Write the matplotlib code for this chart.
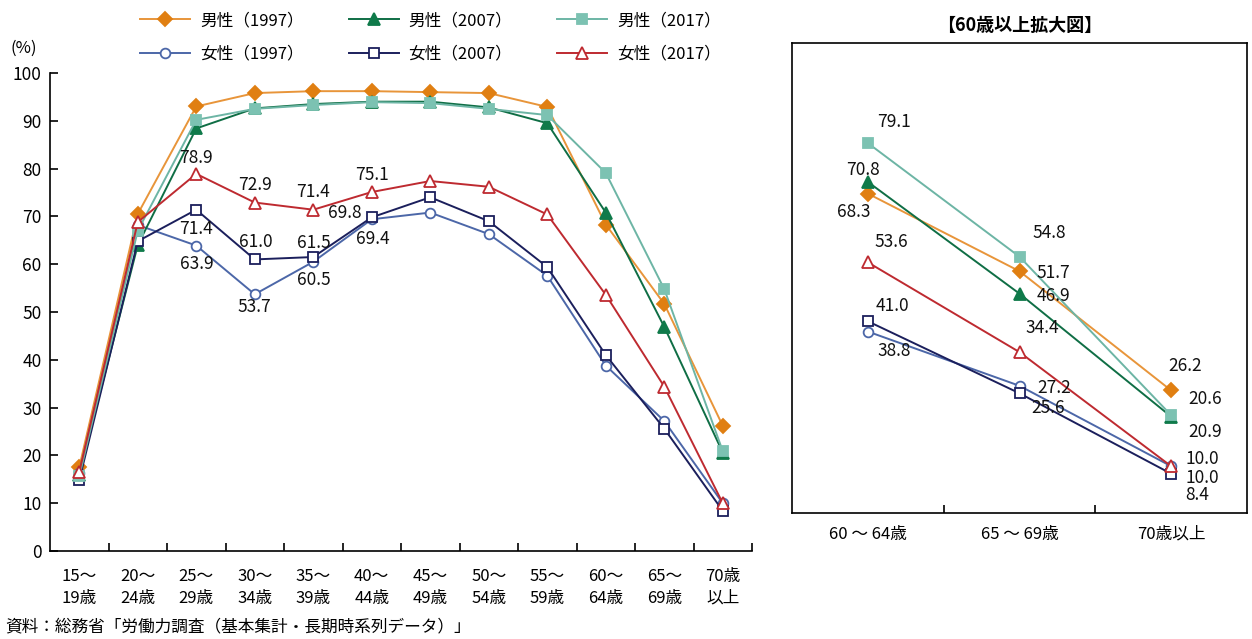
import matplotlib
matplotlib.use("Agg")
import matplotlib.pyplot as plt

plt.rcParams['font.family'] = ['Liberation Sans Narrow', 'Noto Sans CJK JP', 'DejaVu Sans']

# Age groups
age_labels = ["15～\n19歳", "20～\n24歳", "25～\n29歳", "30～\n34歳", "35～\n39歳", "40～\n44歳",
              "45～\n49歳", "50～\n54歳", "55～\n59歳", "60～\n64歳", "65～\n69歳", "70歳\n以上"]
zoom_labels = ["60 ～ 64歳", "65 ～ 69歳", "70歳以上"]

# Employment rate by age group (%)
male_1997 = [17.5, 70.5, 93.0, 95.8, 96.2, 96.2, 96.0, 95.8, 92.9, 68.3, 51.7, 26.2]
male_2007 = [16.0, 64.0, 88.4, 92.6, 93.5, 94.0, 94.0, 92.8, 89.5, 70.8, 46.9, 20.6]
male_2017 = [15.6, 67.0, 90.2, 92.5, 93.3, 93.9, 93.7, 92.5, 91.2, 79.1, 54.8, 20.9]
female_1997 = [16.3, 68.2, 63.9, 53.7, 60.5, 69.4, 70.8, 66.3, 57.6, 38.8, 27.2, 10.0]
female_2007 = [14.8, 64.8, 71.4, 61.0, 61.5, 69.8, 74.0, 69.0, 59.4, 41.0, 25.6, 8.4]
female_2017 = [16.5, 68.8, 78.9, 72.9, 71.4, 75.1, 77.4, 76.2, 70.4, 53.6, 34.4, 10.0]

series = [
    ("男性（1997）", male_1997, dict(color="#E8953A", marker="D", mfc="#E07F12", mec="#E07F12", ms=7)),
    ("女性（1997）", female_1997, dict(color="#4C67A8", marker="o", mfc="white", mec="#4C67A8", ms=7)),
    ("男性（2007）", male_2007, dict(color="#0F6E45", marker="^", mfc="#0F7A4A", mec="#0F7A4A", ms=8)),
    ("女性（2007）", female_2007, dict(color="#1B1F5C", marker="s", mfc="white", mec="#1B1F5C", ms=7)),
    ("男性（2017）", male_2017, dict(color="#6DB5A5", marker="s", mfc="#7CC2B2", mec="#7CC2B2", ms=7)),
    ("女性（2017）", female_2017, dict(color="#BE2A30", marker="^", mfc="white", mec="#BE2A30", ms=8)),
]

W, H = 1252, 639
fig = plt.figure(figsize=(W / 100, H / 100), dpi=100)
fig.patch.set_facecolor("white")

def fx(px):
    return px / W

def fy(py):
    return 1 - py / H

# ---- main chart ----
ax = fig.add_axes([fx(50), fy(551), fx(752) - fx(50), fy(73) - fy(551)])
x = list(range(len(age_labels)))
handles = []
for name, vals, st in series:
    h, = ax.plot(x, vals, lw=1.4, mew=1.3, label=name, zorder=3, **st)
    handles.append(h)

ax.set_xlim(-0.5, len(age_labels) - 0.5)
ax.set_ylim(0, 100)
ax.set_yticks(range(0, 101, 10))
ax.set_xticks(x)
ax.set_xticklabels(age_labels, fontsize=12, linespacing=1.4)
ax.set_xticks([i + 0.5 for i in range(len(age_labels))], minor=True)
ax.tick_params(axis="x", which="major", length=0, pad=12)
ax.tick_params(axis="x", which="minor", direction="in", length=6, width=1.2)
ax.tick_params(axis="y", direction="in", length=6, width=1.2, labelsize=12.5, pad=6)
for s in ["top", "right"]:
    ax.spines[s].set_visible(False)
for s in ["left", "bottom"]:
    ax.spines[s].set_linewidth(1.2)

# value labels on the female curves (pixel offsets from the marker)
main_labels = [
    (female_2017, 2, 0, 16), (female_2017, 3, 0, 18), (female_2017, 4, 0, 18), (female_2017, 5, 0, 17),
    (female_2007, 2, 0, -19), (female_2007, 3, 1, 17), (female_2007, 4, 1, 14), (female_2007, 5, -27, 4),
    (female_1997, 2, 1, -18), (female_1997, 3, 0, -13), (female_1997, 4, 1, -18), (female_1997, 5, 1, -20),
]
for vals, i, dx, dy in main_labels:
    ax.annotate(f"{vals[i]:.1f}", (i, vals[i]), xytext=(dx, dy), textcoords="offset pixels",
                ha="center", va="center", fontsize=12.5, color="#111111", zorder=5)

fig.text(fx(10), fy(48), "(%)", fontsize=12, ha="left", va="center")

# ---- 60+ zoom panel ----
az = fig.add_axes([fx(792), fy(513), fx(1247) - fx(792), fy(43) - fy(513)])
xz = [0, 1, 2]
for name, vals, st in series:
    az.plot(xz, vals[9:], lw=1.4, mew=1.3, zorder=3, **st)
az.set_xlim(-0.5, 2.5)
az.set_ylim(0, 100.5)
az.set_yticks([])
az.set_xticks(xz)
az.set_xticklabels(zoom_labels, fontsize=12)
az.set_xticks([0.5, 1.5], minor=True)
az.tick_params(axis="x", which="major", length=0, pad=9)
az.tick_params(axis="x", which="minor", direction="in", length=6, width=1.2)
for s in az.spines.values():
    s.set_linewidth(1.2)

zoom_value_labels = [
    (male_2017, 0, 26, 21), (male_2007, 0, -5, 12), (male_1997, 0, -14, -18),
    (female_2017, 0, 23, 20), (female_2007, 0, 25, 15), (female_1997, 0, 26, -19),
    (male_2017, 1, 30, 24), (male_1997, 1, 34, -2), (male_2007, 1, 34, -2),
    (female_2017, 1, 23, 24), (female_1997, 1, 35, -2), (female_2007, 1, 29, -15),
    (male_1997, 2, 14, 24), (male_2007, 2, 34, 18), (male_2017, 2, 34, -17),
    (female_2017, 2, 31, 7), (female_1997, 2, 31, -12), (female_2007, 2, 26, -21),
]
for vals, i, dx, dy in zoom_value_labels:
    v = vals[9 + i]
    az.annotate(f"{v:.1f}", (i, v), xytext=(dx, dy), textcoords="offset pixels",
                ha="center", va="center", fontsize=12.5, color="#111111", zorder=5)

fig.text(fx(1020), fy(25), "【60歳以上拡大図】", fontsize=13, ha="center", va="center",
         fontweight="bold")

# ---- legend ----
fig.legend(handles=handles, loc="upper left", bbox_to_anchor=(fx(140), fy(12)),
           ncol=3, frameon=False, fontsize=12, handlelength=3.0, handletextpad=0.6,
           columnspacing=2.7, labelspacing=1.0, borderpad=0, borderaxespad=0)

fig.text(fx(5), fy(627), "資料：総務省「労働力調査（基本集計・長期時系列データ）」", fontsize=12,
         ha="left", va="center")

fig.savefig("out.png", dpi=100, facecolor="white")
